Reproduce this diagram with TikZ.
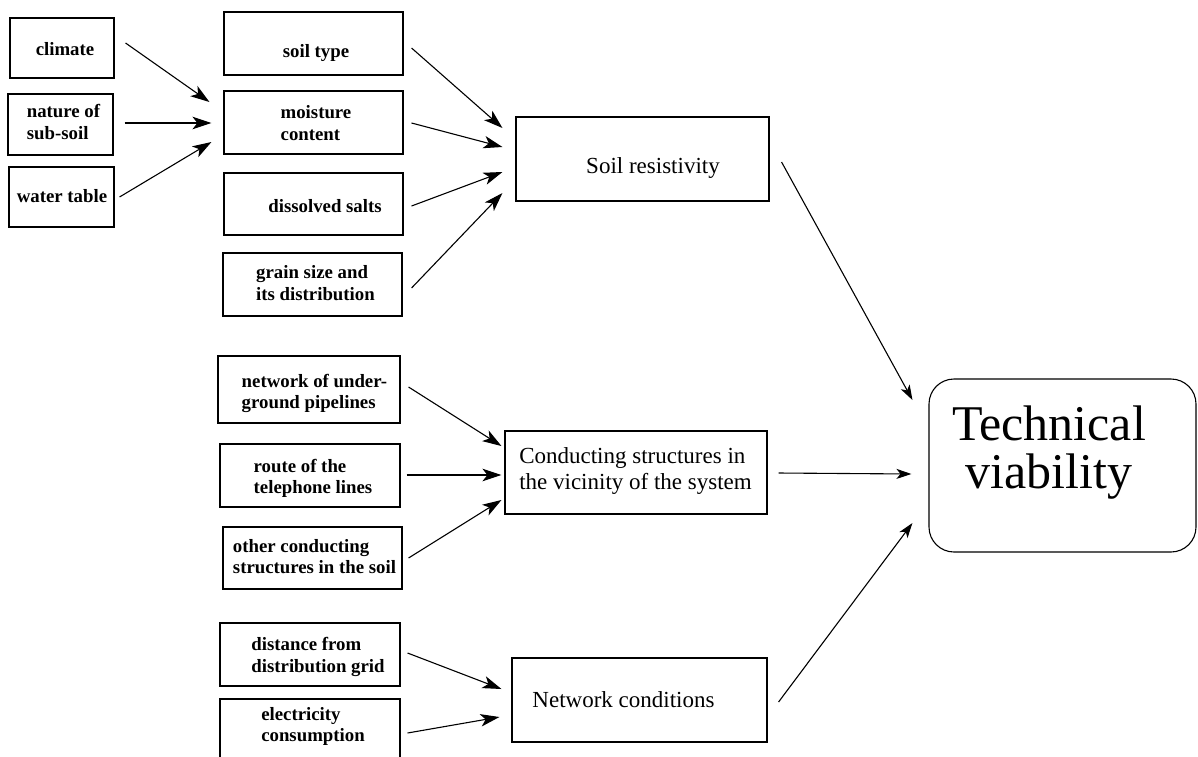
\documentclass[tikz,border=0pt]{standalone}
\usepackage{fontspec}
\setmainfont{Liberation Serif}
\usetikzlibrary{arrows.meta,calc}
\begin{document}
\begin{tikzpicture}[x=1pt,y=-1pt,
  box/.style={draw, line width=1.1pt, rectangle, inner sep=0pt},
  sm/.style={inner sep=0pt, font=\fontsize{18.8}{21.5}\selectfont\bfseries, align=left},
  lg/.style={inner sep=0pt, font=\fontsize{23}{26}\selectfont, align=left},
  huge/.style={inner sep=0pt, font=\fontsize{50}{48}\selectfont, align=center},
  arr/.style={line width=1.1pt, -{Stealth[length=19pt,width=12.5pt,inset=5pt]}},
  arrt/.style={line width=1.1pt, -{Stealth[length=15pt,width=10pt,inset=4pt]}}]
\useasboundingbox (0,0) rectangle (1198,756);

% ---- boxes ----
\node[box, minimum width=104pt, minimum height=60pt] (bclim)  at (62,48) {};
\node[box, minimum width=105pt, minimum height=61pt] (bnat)   at (60.5,124.5) {};
\node[box, minimum width=105pt, minimum height=60pt] (bwat)   at (61.5,197) {};
\node[box, minimum width=179pt, minimum height=63pt] (bstype) at (313.5,43.5) {};
\node[box, minimum width=179pt, minimum height=63pt] (bmoist) at (313.5,122.5) {};
\node[box, minimum width=179pt, minimum height=62pt] (bsalt)  at (313.5,204) {};
\node[box, minimum width=179pt, minimum height=63pt] (bgrain) at (312.5,284.5) {};
\node[box, minimum width=253pt, minimum height=84pt] (bres)   at (642.5,159) {};
\node[box, minimum width=182pt, minimum height=67pt] (bnet)   at (309,389.5) {};
\node[box, minimum width=180pt, minimum height=63pt] (broute) at (310,475.5) {};
\node[box, minimum width=179pt, minimum height=62pt] (bother) at (312.5,558) {};
\node[box, minimum width=262pt, minimum height=83pt] (bcond)  at (636,472.5) {};
\node[box, minimum width=180pt, minimum height=63pt] (bdist)  at (310,654.5) {};
\node[box, minimum width=180pt, minimum height=66pt] (belec)  at (310,732) {};
\node[box, minimum width=255pt, minimum height=84pt] (bnc)    at (639.5,700) {};
\node[box, rounded corners=25pt, minimum width=267pt, minimum height=173pt] (btech) at (1062.5,465.5) {};

% ---- texts ----
\node[sm, anchor=base] (tclim) at (65,55) {climate};
\node[sm] (tnat) at (63.5,122.2) {nature of\\sub-soil};
\node[sm, anchor=base] (twat) at (62,202) {water table};
\node[sm, anchor=base] (tstype) at (316,57) {soil type};
\node[sm] (tmoist) at (316,123.2) {moisture\\content};
\node[sm, anchor=base] (tsalt) at (325,212) {dissolved salts};
\node[sm] (tgrain) at (315.5,283.2) {grain size and\\its distribution};
\node[lg, anchor=base] (tres) at (653,173) {Soil resistivity};
\node[sm] (tnet) at (314.5,393.2) {network of under-\\ground pipelines};
\node[sm] (troute) at (313,478.2) {route of the\\telephone lines};
\node[sm, font=\fontsize{18.8}{20.5}\selectfont\bfseries] (tother) at (314.5,556.7) {other conducting\\structures in the soil};
\node[lg] (tcond) at (635.5,470.6) {Conducting structures in\\the vicinity of the system};
\node[sm] (tdist) at (318,656.7) {distance from\\distribution grid};
\node[sm] (telec) at (313,726.7) {electricity\\consumption};
\node[lg, anchor=base] (tnc) at (623.5,707) {Network conditions};
\node[huge] (ttech) at (1049,452.5) {Technical\\viability};

% ---- connectors ----
\draw[arr] ($(bclim.east)+(11,-5)$)   -- ($(bmoist.west)+(-14,-20.5)$);
\draw[arr] ($(bnat.east)+(11,-1.5)$)  -- ($(bmoist.west)+(-12,0.5)$);
\draw[arr] ($(bwat.east)+(5,0)$)      -- ($(bmoist.west)+(-12,19.5)$);

\draw[arr] ($(bstype.east)+(8,4.5)$)  -- ($(bres.west)+(-13,-31)$);
\draw[arr] ($(bmoist.east)+(8,0.5)$)  -- ($(bres.west)+(-13,-12)$);
\draw[arr] ($(bsalt.east)+(8,2)$)     -- ($(bres.west)+(-13,13)$);
\draw[arr] ($(bgrain.east)+(9,3.5)$)  -- ($(bres.west)+(-13,34)$);

\draw[arr] ($(bnet.east)+(8,-2.5)$)   -- ($(bcond.west)+(-3,-26.5)$);
\draw[arr] ($(broute.east)+(6,-0.5)$) -- ($(bcond.west)+(-3,2.5)$);
\draw[arr] ($(bother.east)+(6,0)$)    -- ($(bcond.west)+(-3,27.5)$);

\draw[arr] ($(bdist.east)+(7,-1.5)$)  -- ($(bnc.west)+(-10,-11)$);
\draw[arr] ($(belec.east)+(7,1)$)     -- ($(bnc.west)+(-12,17)$);

\draw[arrt] ($(bres.east)+(12,3)$)    -- ($(btech.west)+(-16,-65.5)$);
\draw[arrt] ($(bcond.east)+(11,0.5)$) -- ($(btech.west)+(-17,8.5)$);
\draw[arrt] ($(bnc.east)+(11,2)$)     -- ($(btech.west)+(-16,57.5)$);
\end{tikzpicture}
\end{document}
